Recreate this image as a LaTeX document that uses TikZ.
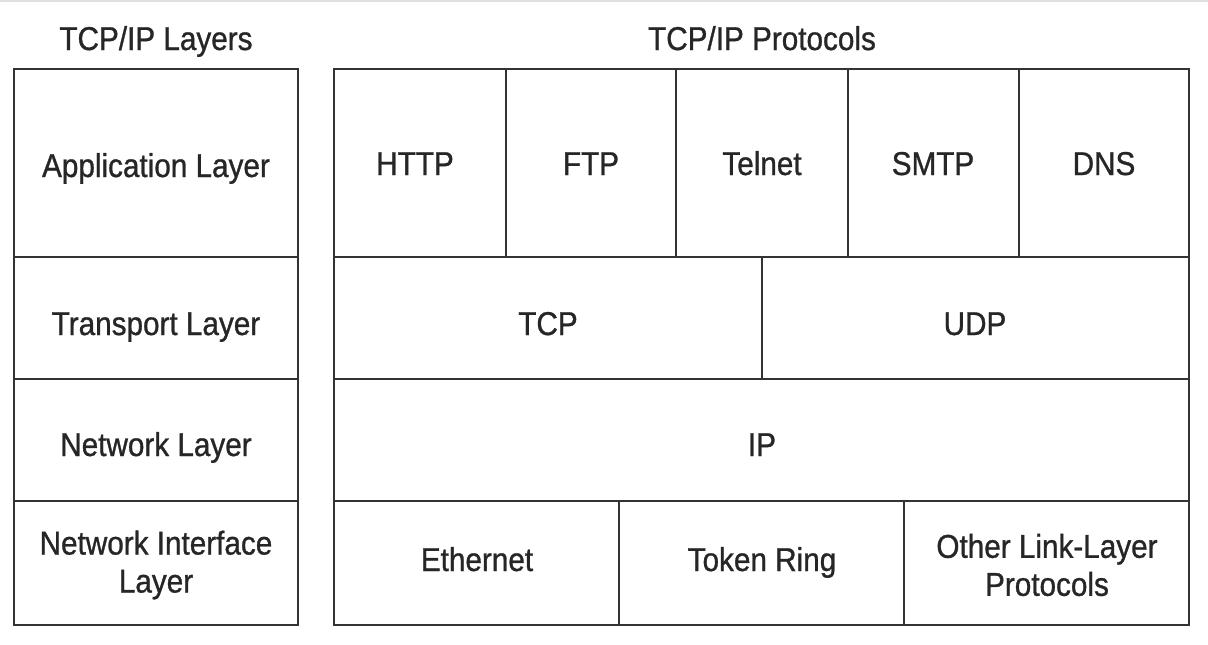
\documentclass[tikz,border=0pt]{standalone}
\usepackage{fontspec}
\setmainfont{Liberation Sans}[FakeStretch=0.9,FakeBold=0.9]
\begin{document}
\begin{tikzpicture}[x=1pt,y=-1pt,
  cell/.style={draw=black!80,line width=2.6pt,inner sep=0pt},
  lab/.style={text=black!85,font=\fontsize{33}{38}\selectfont,align=center,inner sep=0pt},
  bl/.style={lab,anchor=base}]
\useasboundingbox[fill=white] (0,0) rectangle (1208,645);
\draw[black!12,line width=1.5pt] (0,1) -- (1208,1);
\node[bl] (t1) at (156,50) {TCP/IP Layers};
\node[bl] (t2) at (762,50) {TCP/IP Protocols};
% left column
\draw[cell] (14,69) rectangle (298,257);
\draw[cell] (14,257) rectangle (298,379);
\draw[cell] (14,379) rectangle (298,501);
\draw[cell] (14,501) rectangle (298,625);
\node[bl] (l1) at (156,177) {Application Layer};
\node[bl] (l2) at (156,335) {Transport Layer};
\node[bl] (l3) at (156,456) {Network Layer};
\node[lab] (l4) at (156,565) {Network Interface\\Layer};
% right: application
\draw[cell] (334,69) rectangle (506,257);
\draw[cell] (506,69) rectangle (676,257);
\draw[cell] (676,69) rectangle (848,257);
\draw[cell] (848,69) rectangle (1019,257);
\draw[cell] (1019,69) rectangle (1189,257);
\node[bl] (a1) at (415,175) {HTTP};
\node[bl] (a2) at (591,175) {FTP};
\node[bl] (a3) at (762,175) {Telnet};
\node[bl] (a4) at (933,175) {SMTP};
\node[bl] (a5) at (1104,175) {DNS};
% transport
\draw[cell] (334,257) rectangle (762,379);
\draw[cell] (762,257) rectangle (1189,379);
\node[bl] (p1) at (548,335) {TCP};
\node[bl] (p2) at (975,335) {UDP};
% network
\draw[cell] (334,379) rectangle (1189,501);
\node[bl] (n1) at (762,456) {IP};
% link
\draw[cell] (334,501) rectangle (619,625);
\draw[cell] (619,501) rectangle (904,625);
\draw[cell] (904,501) rectangle (1189,625);
\node[bl] (k1) at (477,571) {Ethernet};
\node[bl] (k2) at (762,571) {Token Ring};
\node[lab] (k3) at (1047,565) {Other Link-Layer\\Protocols};
\end{tikzpicture}
\end{document}
